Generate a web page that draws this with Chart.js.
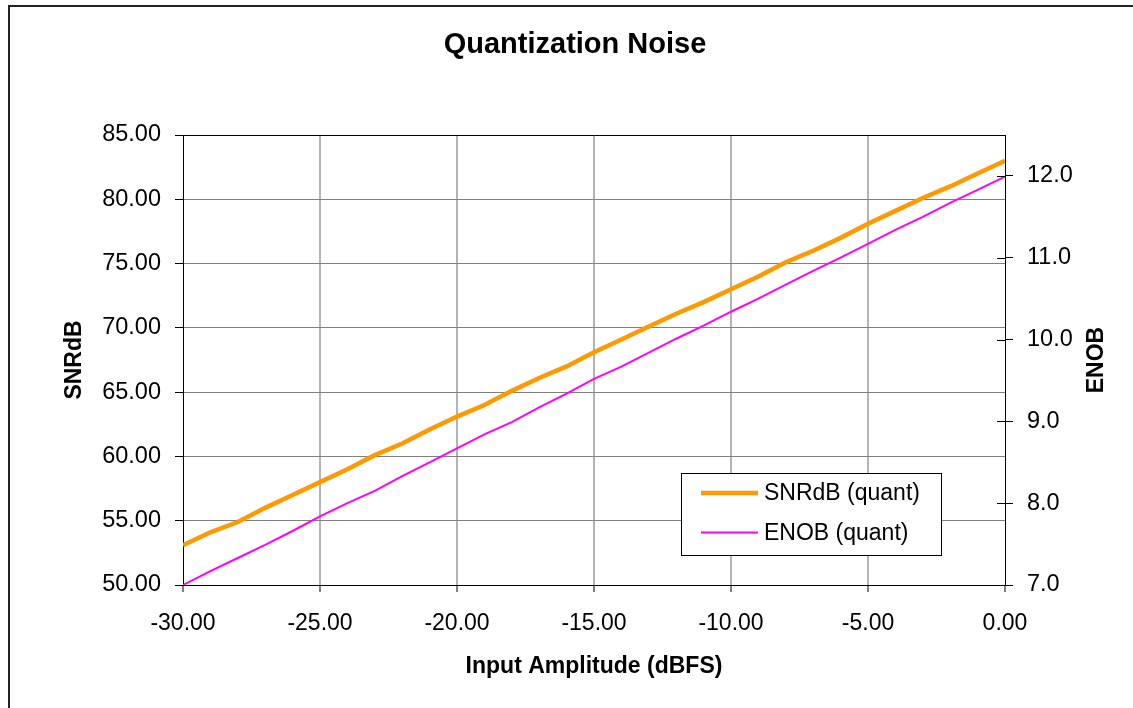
<!DOCTYPE html>
<html><head><meta charset="utf-8">
<script src="https://cdn.jsdelivr.net/npm/chart.js@4.4.1/dist/chart.umd.min.js"></script>
<style>
html,body{margin:0;padding:0;background:#fff;overflow:hidden}
#wrap{position:relative;width:1133px;height:708px}
#frame{position:absolute;left:8px;top:5px;width:1300px;height:900px;border-left:2px solid #222;border-top:2px solid #222;box-sizing:border-box}
canvas{position:absolute;left:0;top:0}
</style></head><body>
<div id="wrap"><div id="frame"></div><canvas id="c" width="1133" height="708"></canvas></div>
<script>
// ---- data ----
const inputAmplitude = [-30,-29,-28,-27,-26,-25,-24,-23,-22,-21,-20,-19,-18,-17,-16,-15,-14,-13,-12,-11,-10,-9,-8,-7,-6,-5,-4,-3,-2,-1,0];
const snrQuant = [53.1,54.1,54.9,56.0,57.0,58.0,59.0,60.1,61.0,62.1,63.1,64.0,65.1,66.1,67.0,68.1,69.1,70.1,71.1,72.0,73.0,74.0,75.1,76.0,77.0,78.1,79.1,80.1,81.0,82.0,83.0];
const enobQuant = [7.00,7.17,7.33,7.49,7.66,7.84,8.00,8.15,8.33,8.50,8.67,8.84,8.99,9.17,9.34,9.52,9.67,9.84,10.01,10.17,10.34,10.50,10.67,10.84,11.00,11.17,11.34,11.50,11.67,11.83,11.99];
const seriesLabels = ['SNRdB (quant)','ENOB (quant)'];
const chartTitle = 'Quantization Noise';
const xTitle = 'Input Amplitude (dBFS)';
const yTitle = 'SNRdB';
const y2Title = 'ENOB';
const xRange = [-30, 0, 5];
const yRange = [50, 85, 5];
const y2Range = [7, 12.5, 1];

const FONT = '"Liberation Sans", Arial, Helvetica, sans-serif';
Chart.defaults.font.family = FONT;
Chart.defaults.color = '#000';

const toXY = (xs, ys) => xs.map((x, i) => ({x, y: ys[i]}));

const extras = {
  id: 'extras',
  afterDraw(chart) {
    const ctx = chart.ctx, a = chart.chartArea;
    ctx.save();
    // inner tick marks of the secondary axis
    const s = chart.scales.y2;
    ctx.strokeStyle = '#000'; ctx.lineWidth = 1;
    s.ticks.forEach(t => {
      const y = Math.round(s.getPixelForValue(t.value)) + 0.5;
      ctx.beginPath(); ctx.moveTo(a.right - 8, y); ctx.lineTo(a.right, y); ctx.stroke();
    });
    // chart title
    ctx.fillStyle = '#000';
    ctx.font = 'bold 29px ' + FONT; ctx.textAlign = 'center'; ctx.textBaseline = 'middle';
    ctx.fillText(chartTitle, 575, 45);
    // secondary axis title (reads bottom-to-top)
    ctx.save();
    ctx.translate(1097, (a.top + a.bottom) / 2);
    ctx.rotate(-Math.PI / 2);
    ctx.font = 'bold 23px ' + FONT;
    ctx.fillText(y2Title, 0, 0);
    ctx.restore();
    // legend box
    const L = a.right - 324, T = a.bottom - 112, W = 260, H = 82;
    ctx.fillStyle = '#fff'; ctx.fillRect(L, T, W, H);
    ctx.strokeStyle = '#000'; ctx.lineWidth = 1;
    ctx.strokeRect(Math.round(L) + 0.5, Math.round(T) + 0.5, W, H);
    ctx.font = '23px ' + FONT; ctx.textAlign = 'left'; ctx.textBaseline = 'middle'; ctx.fillStyle = '#000';
    chart.data.datasets.forEach((ds, i) => {
      const y = T + 20 + i * 39.5;
      ctx.strokeStyle = ds.borderColor; ctx.lineWidth = ds.borderWidth;
      ctx.beginPath(); ctx.moveTo(L + 20, y); ctx.lineTo(L + 77, y); ctx.stroke();
      ctx.fillText(ds.label, L + 83, y + 1);
    });
    ctx.restore();
  }
};

new Chart(document.getElementById('c'), {
  type: 'line',
  data: {
    datasets: [
      {label: seriesLabels[0], data: toXY(inputAmplitude, snrQuant), yAxisID: 'y',
       borderColor: '#FF9900', backgroundColor: '#FF9900', borderWidth: 4.5, pointRadius: 0, tension: 0},
      {label: seriesLabels[1], data: toXY(inputAmplitude, enobQuant), yAxisID: 'y2',
       borderColor: '#FF00FF', backgroundColor: '#FF00FF', borderWidth: 2, pointRadius: 0, tension: 0}
    ]
  },
  options: {
    responsive: false, animation: false,
    layout: {padding: {top: 135, left: 0, right: 0, bottom: 0}},
    plugins: {
      legend: {display: false},
      tooltip: {enabled: false},
      title: {display: false}
    },
    scales: {
      x: {
        type: 'linear', position: 'bottom', min: xRange[0], max: xRange[1],
        ticks: {stepSize: xRange[2], padding: 18, font: {size: 23}, callback: v => v.toFixed(2), maxRotation: 0},
        grid: {color: c => (c.tick && (c.tick.value === xRange[0] || c.tick.value === xRange[1])) ? 'rgba(0,0,0,0)' : '#b4b4b4',
               lineWidth: 2, tickColor: '#000', tickWidth: 1, tickLength: 7},
        border: {color: '#000', width: 1},
        title: {display: true, text: xTitle, font: {size: 23, weight: 'bold'}, padding: {top: 0, bottom: 28}},
        afterFit: s => { s.height = 123; }
      },
      y: {
        type: 'linear', position: 'left', min: yRange[0], max: yRange[1],
        ticks: {stepSize: yRange[2], padding: 14, font: {size: 23.5}, callback: v => v.toFixed(2)},
        grid: {color: c => (c.tick && c.tick.value === yRange[1]) ? '#000' : (c.tick && c.tick.value === yRange[0] ? 'rgba(0,0,0,0)' : '#808080'),
               lineWidth: 1, tickColor: '#000', tickWidth: 1, tickLength: 8},
        border: {color: '#000', width: 1},
        title: {display: true, text: yTitle, font: {size: 23, weight: 'bold'}, padding: {top: 61, bottom: 0}},
        afterFit: s => { s.width = 183; }
      },
      y2: {
        type: 'linear', position: 'right', min: y2Range[0], max: y2Range[1],
        afterBuildTicks: s => { s.ticks = s.ticks.filter(t => t.value <= 12); },
        ticks: {stepSize: y2Range[2], padding: 14, font: {size: 23.5}, callback: v => v.toFixed(1)},
        grid: {drawOnChartArea: false, color: '#000', tickColor: '#000', tickWidth: 1, tickLength: 8},
        border: {color: '#000', width: 1},
        title: {display: false},
        afterFit: s => { s.width = 128; }
      }
    }
  },
  plugins: [extras]
});
</script>
</body></html>
